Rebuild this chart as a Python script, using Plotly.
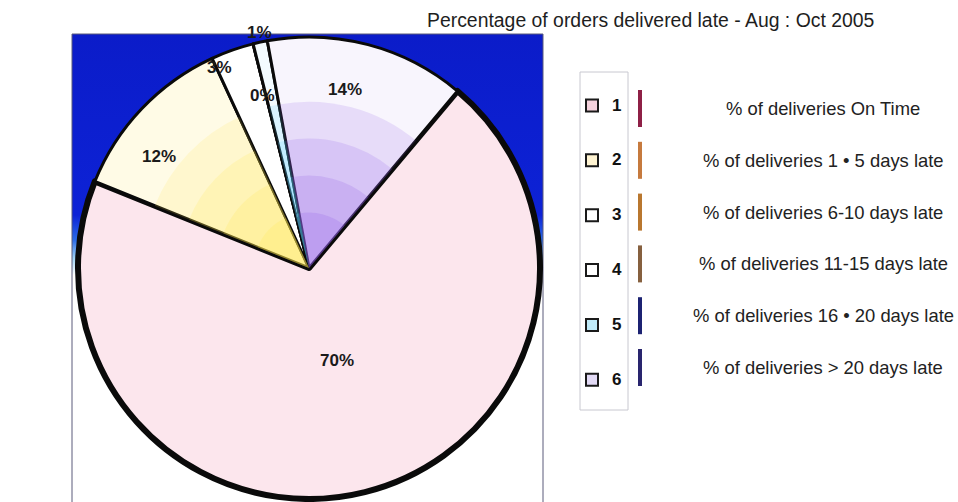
import base64
import math
import plotly.graph_objects as go

# ---------------- data ----------------
categories = ["1", "2", "3", "4", "5", "6"]
descriptions = [
    "% of deliveries On Time",
    "% of deliveries 1 \u2022 5 days late",
    "% of deliveries 6-10 days late",
    "% of deliveries 11-15 days late",
    "% of deliveries 16 \u2022 20 days late",
    "% of deliveries > 20 days late",
]
percent_values = [70, 12, 3, 0, 1, 14]
title_text = "Percentage of orders delivered late - Aug : Oct 2005"

# ---------------- style ----------------
W, H = 958, 502
PIE_CX, PIE_CY, PIE_R = 309, 268, 231
ROTATION = 40
FONT = "Liberation Sans, Arial, sans-serif"

slice_colors = ["#fce6ed", "#fffbe6", "#ffffff", "#ffffff", "#f3fbff", "#f8f5fd"]
slice_line_w = [6, 3, 3, 3, 3, 3]
legend_colors = ["#f5d2dd", "#fff4d2", "#ffffff", "#ffffff", "#bfeaf8", "#e2daf5"]
tint_rgb = [None, "255,232,80", None, None, "90,205,255", "145,95,232"]
tint_layers = [(0.72, 0.16), (0.56, 0.18), (0.40, 0.20), (0.24, 0.22)]
bar_colors = ["#8e2046", "#c67a3e", "#b9772f", "#86603f", "#1c2272", "#29256e"]
label_rfrac = [0.42, 0.81, 0.95, 0.775, 1.04, 0.79]
label_dtheta = [-3, -7, -4.6, -1.2, 0.4, -3.4]


def px(x):
    return x / W


def py(y):
    return 1 - y / H


def pie_domain(frac):
    r = max(PIE_R * frac, 0.5)
    return dict(x=[px(PIE_CX - r), px(PIE_CX + r)], y=[py(PIE_CY + r), py(PIE_CY - r)])


legend_labels = ["\u00a0<br><span style='font-size:17px'><b>%s</b></span><br>\u00a0" % c
                 for c in categories]

fig = go.Figure()
# legend proxy (thin symbol borders), hidden under the main pie centre
fig.add_trace(go.Pie(
    labels=legend_labels, values=percent_values, sort=False, direction="clockwise",
    rotation=ROTATION, textinfo="none", hoverinfo="skip",
    marker=dict(colors=legend_colors, line=dict(color="#1a1a1a", width=2)),
    domain=pie_domain(0.0), showlegend=True,
))
fig.add_trace(go.Pie(
    labels=legend_labels, values=percent_values, sort=False, direction="clockwise",
    rotation=ROTATION, textinfo="none", hoverinfo="label+percent",
    marker=dict(colors=slice_colors, line=dict(color="#0a0a0a", width=slice_line_w)),
    domain=pie_domain(1.0), showlegend=False,
))
for frac, alpha in tint_layers:
    cols = ["rgba(%s,%.2f)" % (c, alpha) if c else "rgba(0,0,0,0)" for c in tint_rgb]
    fig.add_trace(go.Pie(
        labels=legend_labels, values=percent_values, sort=False, direction="clockwise",
        rotation=ROTATION, textinfo="none", hoverinfo="skip",
        marker=dict(colors=cols, line=dict(width=0)),
        domain=pie_domain(frac), showlegend=False,
    ))

# background gradient of the plot rectangle
RX0, RX1, RY0, RY1 = 72, 543, 34, 502
rw, rh = RX1 - RX0, RY1 - RY0
stops = [(0.0, "#0b1cc9"), (0.387, "#0d22d6"), (0.44, "#2a6ae8"),
         (0.479, "#9fd3f5"), (0.515, "#ffffff"), (1.0, "#ffffff")]
stop_xml = "".join('<stop offset="%.3f" stop-color="%s"/>' % s for s in stops)
svg = ('<svg xmlns="http://www.w3.org/2000/svg" width="%d" height="%d" viewBox="0 0 %d %d" '
       'preserveAspectRatio="none"><defs><linearGradient id="g" x1="0" y1="0" x2="0" y2="1">'
       '%s</linearGradient></defs><rect width="%d" height="%d" fill="url(#g)"/></svg>'
       % (rw, rh, rw, rh, stop_xml, rw, rh))
src = "data:image/svg+xml;base64," + base64.b64encode(svg.encode()).decode()

annotations = []
# pie percentage labels, positioned from the cumulative slice angles
total = sum(percent_values)
start = ROTATION
for i, v in enumerate(percent_values):
    span = 360.0 * v / total
    mid = math.radians(start + span / 2 + label_dtheta[i])
    start += span
    r = label_rfrac[i] * PIE_R
    annotations.append(dict(
        x=px(PIE_CX + r * math.sin(mid)), y=py(PIE_CY - r * math.cos(mid)),
        xref="paper", yref="paper", text="<b>%d%%</b>" % v, showarrow=False,
        font=dict(family=FONT, size=17, color="#1a1a1a"), xanchor="center", yanchor="middle",
    ))

# title
annotations.append(dict(
    x=px(650), y=py(20), xref="paper", yref="paper", text=title_text, showarrow=False,
    font=dict(family=FONT, size=19.4, color="#1e1e1e"), xanchor="center", yanchor="middle",
))

# description texts + coloured bars
ROW0, ROW_STEP = 108.5, 51.8
shapes = []
for i, d in enumerate(descriptions):
    yc = ROW0 + ROW_STEP * i
    annotations.append(dict(
        x=px(823), y=py(yc), xref="paper", yref="paper", text=d, showarrow=False,
        font=dict(family=FONT, size=18.4, color="#222222"), xanchor="center", yanchor="middle",
    ))
    shapes.append(dict(type="rect", xref="paper", yref="paper",
                       x0=px(638), x1=px(642), y0=py(yc + 18.5), y1=py(yc - 18.5),
                       fillcolor=bar_colors[i], line=dict(width=0), layer="above"))

# legend frame
shapes.append(dict(type="rect", xref="paper", yref="paper",
                   x0=px(580), x1=px(628), y0=py(410), y1=py(72),
                   fillcolor="rgba(0,0,0,0)", line=dict(color="#c8c8d0", width=1), layer="below"))
# border of plot rectangle
shapes.append(dict(type="rect", xref="paper", yref="paper",
                   x0=px(RX0), x1=px(RX1), y0=py(RY1 + 2), y1=py(RY0),
                   fillcolor="rgba(0,0,0,0)", line=dict(color="#5a5a7a", width=1), layer="below"))

fig.update_layout(
    width=W, height=H, margin=dict(l=0, r=0, t=0, b=0),
    paper_bgcolor="white", plot_bgcolor="white",
    images=[dict(source=src, xref="paper", yref="paper", x=px(RX0), y=py(RY0),
                 sizex=rw / W, sizey=rh / H, xanchor="left", yanchor="top",
                 sizing="stretch", layer="below")],
    annotations=annotations, shapes=shapes,
    legend=dict(x=px(572), y=py(73), xanchor="left", yanchor="top",
                bgcolor="rgba(0,0,0,0)", borderwidth=0,
                font=dict(family=FONT, size=13.3, color="#111111"), traceorder="normal"),
    showlegend=True,
)

fig.write_html("out.html", config={"displayModeBar": False},
               post_script="document.body.style.margin='0';")
